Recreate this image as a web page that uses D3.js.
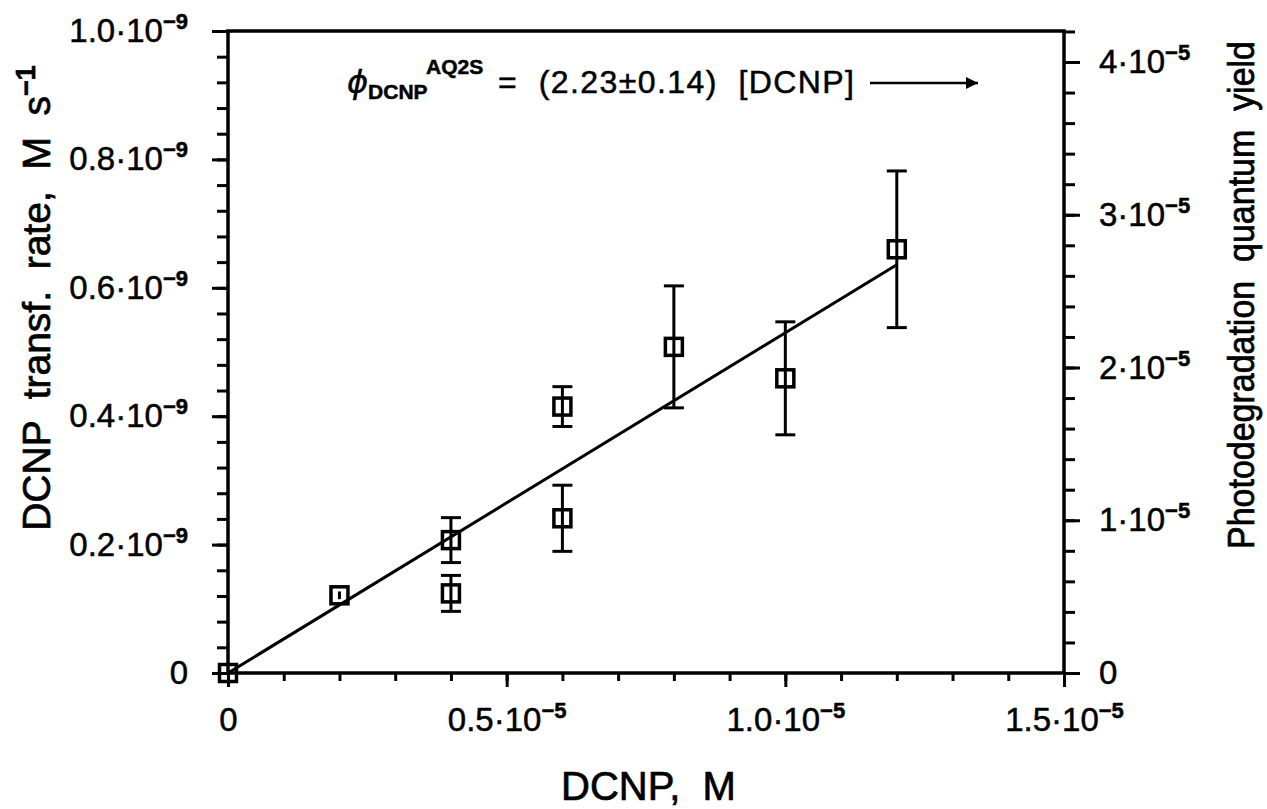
<!DOCTYPE html>
<html>
<head>
<meta charset="utf-8">
<script src="https://cdn.jsdelivr.net/npm/d3@7"></script>
<style>
  body { margin: 0; background: #fff; }
  svg { font-family: "Liberation Sans", Arial, sans-serif; }
</style>
</head>
<body>
<div id="chart"></div>
<script>
// data
var dcnp    = [0, 0.2e-5, 0.4e-5, 0.4e-5, 0.6e-5, 0.6e-5, 0.8e-5, 1.0e-5, 1.2e-5];
var rate    = [0, 0.121e-9, 0.207e-9, 0.124e-9, 0.415e-9, 0.241e-9, 0.508e-9, 0.459e-9, 0.660e-9];
var rateErr = [0, 0.006e-9, 0.035e-9, 0.028e-9, 0.031e-9, 0.0515e-9, 0.095e-9, 0.088e-9, 0.122e-9];
// fitted line
var fitX = [0, 1.2e-5];
var fitY = [0, 0.636e-9];
// ticks
var xMajor = [0, 0.5e-5, 1.0e-5, 1.5e-5];
var yMajor = [0, 0.2e-9, 0.4e-9, 0.6e-9, 0.8e-9, 1.0e-9];
var y2Major = [0, 1e-5, 2e-5, 3e-5, 4e-5];

var width = 1267, height = 809;
var margin = {top: 31, right: 203, bottom: 136, left: 228};
var w = width - margin.left - margin.right,
    h = height - margin.top - margin.bottom;

var svg = d3.select("#chart").append("svg")
  .attr("width", width).attr("height", height);

var x = d3.scaleLinear().domain([0, 1.5e-5]).range([0, w]);
var y = d3.scaleLinear().domain([0, 1.0e-9]).range([h, 0]);
// right axis: quantum yield
var y2 = d3.scaleLinear().domain([0, 4.203e-5]).range([h, 0]);

var g = svg.append("g").attr("transform", "translate(" + margin.left + "," + margin.top + ")");

// minor tick values
var xMinor = d3.range(0, 16).map(function(i) { return i * 0.1e-5; });
var yMinor = d3.range(0, 26).map(function(i) { return i * 0.04e-9; });
var y2Minor = d3.range(0, 22).map(function(i) { return i * 0.2e-5; });

function sciLabel(sel, mant, exp) {
  sel.each(function(d) {
    var t = d3.select(this).text(null);
    if (d === 0) { t.text("0"); return; }
    t.append("tspan").text(mant(d) + "\u00b710");
    t.append("tspan").attr("dy", -13).attr("font-size", 22).attr("font-weight", "bold").text("\u2212" + exp);
  });
}

// minor ticks
g.append("g").attr("class", "minor").attr("transform", "translate(0," + h + ")")
  .call(d3.axisBottom(x).tickValues(xMinor).tickSize(8).tickFormat(""));
g.append("g").attr("class", "minor")
  .call(d3.axisLeft(y).tickValues(yMinor).tickSize(11).tickFormat(""));
g.append("g").attr("class", "minor").attr("transform", "translate(" + w + ",0)")
  .call(d3.axisRight(y2).tickValues(y2Minor).tickSize(11).tickFormat(""));

// major ticks + labels
var xAxis = g.append("g").attr("transform", "translate(0," + h + ")")
  .call(d3.axisBottom(x).tickValues(xMajor).tickSize(14).tickPadding(21));
xAxis.selectAll("text").call(sciLabel, function(d) { return (d / 1e-5).toFixed(1); }, "5");

var yAxis = g.append("g")
  .call(d3.axisLeft(y).tickValues(yMajor).tickSize(16).tickPadding(24));
yAxis.selectAll("text").call(sciLabel, function(d) { return (d / 1e-9).toFixed(1); }, "9");

var y2Axis = g.append("g").attr("transform", "translate(" + w + ",0)")
  .call(d3.axisRight(y2).tickValues(y2Major).tickSize(16).tickPadding(19));
y2Axis.selectAll("text").call(sciLabel, function(d) { return Math.round(d / 1e-5); }, "5");

g.selectAll(".tick text").attr("font-size", 33).attr("fill", "#000")
  .attr("stroke", "#000").attr("stroke-width", 0.5)
  .attr("font-family", "'Liberation Sans', Arial, sans-serif");
g.selectAll(".domain").remove();
g.selectAll(".tick line").attr("stroke", "#000").attr("stroke-width", 3);

// frame (left, top, right, bottom)
g.append("rect").attr("x", 0).attr("y", 0).attr("width", w).attr("height", h)
  .attr("fill", "none").attr("stroke", "#000").attr("stroke-width", 3.5);

// fit line
g.append("line")
  .attr("x1", x(fitX[0])).attr("y1", y(fitY[0]))
  .attr("x2", x(fitX[1])).attr("y2", y(fitY[1]))
  .attr("stroke", "#000").attr("stroke-width", 3);

var pts = dcnp.map(function(d, i) { return {x: d, y: rate[i], e: rateErr[i]}; });

// error bars
var eb = g.append("g").selectAll("g").data(pts).join("g");
eb.append("line")
  .attr("x1", d => x(d.x)).attr("x2", d => x(d.x))
  .attr("y1", d => y(d.y + d.e)).attr("y2", d => y(d.y - d.e))
  .attr("stroke", "#000").attr("stroke-width", 3);
eb.filter(d => y(d.y - d.e) - y(d.y + d.e) > 20).each(function(d) {
  var s = d3.select(this);
  [d.y + d.e, d.y - d.e].forEach(function(v) {
    s.append("line").attr("x1", x(d.x) - 10).attr("x2", x(d.x) + 10)
      .attr("y1", y(v)).attr("y2", y(v))
      .attr("stroke", "#000").attr("stroke-width", 3);
  });
});

// square markers
g.append("g").selectAll("rect").data(pts).join("rect")
  .attr("x", d => x(d.x) - 8.5).attr("y", d => y(d.y) - 8.5)
  .attr("width", 17).attr("height", 17)
  .attr("fill", "none").attr("stroke", "#000").attr("stroke-width", 3.5);

// annotation
var ann = svg.append("text").attr("x", 347).attr("y", 93).attr("font-size", 32).attr("fill", "#000")
  .attr("stroke", "#000").attr("stroke-width", 0.5);
ann.append("tspan").attr("font-family", "'DejaVu Sans', sans-serif").attr("font-style", "italic").text("\u03d5");
ann.append("tspan").attr("dy", 6).attr("font-size", 21).attr("font-weight", "bold").text("DCNP");
ann.append("tspan").attr("dy", -25).attr("font-size", 21).attr("font-weight", "bold").text("AQ2S");
ann.append("tspan").attr("x", 498).attr("dy", 19).attr("xml:space", "preserve")
  .attr("textLength", 356).attr("lengthAdjust", "spacing")
  .text("=  (2.23\u00b10.14)  [DCNP]");

svg.append("defs").append("marker")
  .attr("id", "arr").attr("viewBox", "0 0 10 10").attr("refX", 10).attr("refY", 5)
  .attr("markerWidth", 17).attr("markerHeight", 12).attr("markerUnits", "userSpaceOnUse")
  .attr("orient", "auto")
  .append("path").attr("d", "M0,0L10,5L0,10Z").attr("fill", "#000");
svg.append("line").attr("x1", 870).attr("x2", 978).attr("y1", 83).attr("y2", 83)
  .attr("stroke", "#000").attr("stroke-width", 2.5).attr("marker-end", "url(#arr)");

// axis titles
svg.append("text").attr("x", width / 2 + 15).attr("y", 800)
  .attr("text-anchor", "middle").attr("font-size", 40).attr("fill", "#000")
  .attr("stroke", "#000").attr("stroke-width", 0.7)
  .attr("xml:space", "preserve").text("DCNP,  M");

var lt = svg.append("text").attr("transform", "translate(50,298) rotate(-90)")
  .attr("text-anchor", "middle").attr("font-size", 39).attr("fill", "#000")
  .attr("stroke", "#000").attr("stroke-width", 0.7)
  .attr("xml:space", "preserve");
lt.append("tspan").text("DCNP  transf.  rate,  M  s");
lt.append("tspan").attr("dy", -15).attr("font-size", 27).attr("font-weight", "bold").text("\u22121");

svg.append("text").attr("transform", "translate(1254,295) rotate(-90)")
  .attr("text-anchor", "middle").attr("font-size", 36).attr("fill", "#000")
  .attr("stroke", "#000").attr("stroke-width", 0.7)
  .attr("textLength", 508).attr("lengthAdjust", "spacingAndGlyphs")
  .attr("xml:space", "preserve").text("Photodegradation  quantum  yield");
</script>
</body>
</html>
